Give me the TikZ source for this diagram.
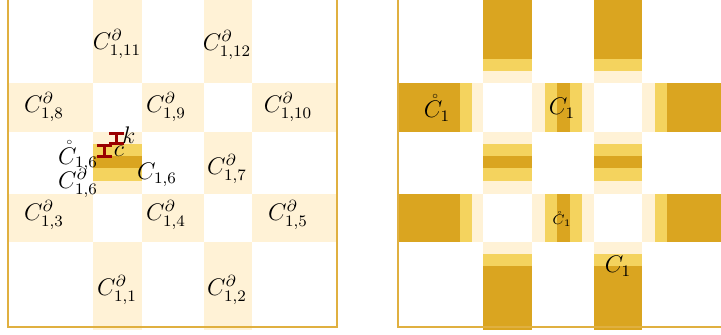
\documentclass[tikz,border=0pt]{standalone}
\usepackage{amsmath}
\definecolor{cream}{HTML}{FFF2D6}
\definecolor{midgold}{HTML}{F4D35E}
\definecolor{darkgold}{HTML}{DAA520}
\definecolor{framegold}{HTML}{E0B040}
\definecolor{beamred}{HTML}{990000}
\begin{document}
\begin{tikzpicture}[x=0.5pt,y=-0.5pt,
  lbl/.style={inner sep=0pt,font=\fontsize{12}{14}\selectfont},
  tinylbl/.style={inner sep=0pt,font=\fontsize{7.5}{9}\selectfont},
  panel/.style={draw=framegold,line width=0.8pt},
  beam/.style={draw=beamred,line width=1.5pt}]
\clip (0,0) rectangle (721,334);

% ---------- left panel: boundary cells ----------
\foreach \a/\b in {93/142,204/252} {
  \fill[cream] (\a,-2) rectangle (\b,83);
  \fill[cream] (\a,132) rectangle (\b,194);
  \fill[cream] (\a,242) rectangle (\b,330);
}
\foreach \a/\b in {83/132,194/242} {
  \fill[cream] (8,\a) rectangle (93,\b);
  \fill[cream] (142,\a) rectangle (204,\b);
  \fill[cream] (252,\a) rectangle (337,\b);
}
% banded boundary cell next to C_{1,6}
\fill[midgold] (93,144) rectangle (142,181);
\fill[darkgold] (93,156) rectangle (142,168);
\draw[panel] (8,-1) rectangle (337,327);

% size markers c and k
\coordinate (cTop) at (104.5,145);
\coordinate (cBot) at (104.5,156);
\coordinate (kTop) at (116.5,133);
\coordinate (kBot) at (116.5,143);
\draw[beam] ([xshift=-3.8pt]cTop) -- ([xshift=3.8pt]cTop)
            (cTop) -- (cBot)
            ([xshift=-3.8pt]cBot) -- ([xshift=3.8pt]cBot);
\draw[beam] ([xshift=-3.8pt]kTop) -- ([xshift=3.8pt]kTop)
            (kTop) -- (kBot)
            ([xshift=-3.8pt]kBot) -- ([xshift=3.8pt]kBot);

% labels
\node[lbl] (b11) at (117,44) {$C^{\partial}_{1,11}$};
\node[lbl] (b12) at (227,45) {$C^{\partial}_{1,12}$};
\node[lbl] (b8)  at (44,107) {$C^{\partial}_{1,8}$};
\node[lbl] (b9)  at (166,107) {$C^{\partial}_{1,9}$};
\node[lbl] (b10) at (288,107) {$C^{\partial}_{1,10}$};
\node[lbl] (i16) at (78,156) {$\mathring{C}_{1,6}$};
\node[lbl] (b6)  at (78,183) {$C^{\partial}_{1,6}$};
\node[lbl] (c16) at (157,175) {$C_{1,6}$};
\node[lbl] (b7)  at (227,169) {$C^{\partial}_{1,7}$};
\node[lbl] (b3)  at (44,215) {$C^{\partial}_{1,3}$};
\node[lbl] (b4)  at (166,215) {$C^{\partial}_{1,4}$};
\node[lbl] (b5)  at (288,215) {$C^{\partial}_{1,5}$};
\node[lbl] (b1)  at (117,290) {$C^{\partial}_{1,1}$};
\node[lbl] (b2)  at (227,290) {$C^{\partial}_{1,2}$};
\node[lbl] (lc)  at (119,151) {$c$};
\node[lbl] (lk)  at (129,135) {$k$};

% ---------- right panel ----------
\begin{scope}[shift={(390,0)}]
\foreach \a/\b in {93/142,204/252} {
  % top arms
  \fill[darkgold] (\a,-2) rectangle (\b,59);
  \fill[midgold]  (\a,59) rectangle (\b,71);
  \fill[cream]    (\a,71) rectangle (\b,83);
  % middle row
  \fill[cream]    (\a,132) rectangle (\b,194);
  \fill[midgold]  (\a,144) rectangle (\b,181);
  \fill[darkgold] (\a,156) rectangle (\b,168);
  % bottom arms
  \fill[cream]    (\a,242) rectangle (\b,254);
  \fill[midgold]  (\a,254) rectangle (\b,266);
  \fill[darkgold] (\a,266) rectangle (\b,330);
}
\foreach \a/\b in {83/132,194/242} {
  % left arms
  \fill[darkgold] (8,\a) rectangle (70,\b);
  \fill[midgold]  (70,\a) rectangle (82,\b);
  \fill[cream]    (82,\a) rectangle (93,\b);
  % middle column
  \fill[cream]    (142,\a) rectangle (204,\b);
  \fill[midgold]  (155,\a) rectangle (192,\b);
  \fill[darkgold] (167,\a) rectangle (180,\b);
  % right arms
  \fill[cream]    (252,\a) rectangle (265,\b);
  \fill[midgold]  (265,\a) rectangle (277,\b);
  \fill[darkgold] (277,\a) rectangle (340,\b);
}
\draw[panel] (8,-1) rectangle (337,327);
\end{scope}

\node[lbl] (ri1) at (437,108) {$\mathring{C}_1$};
\node[lbl] (rc1) at (562,108) {$C_1$};
\node[tinylbl] (ri2) at (562,219) {$\mathring{C}_1$};
\node[lbl] (rc2) at (618,266) {$C_1$};
\end{tikzpicture}
\end{document}
